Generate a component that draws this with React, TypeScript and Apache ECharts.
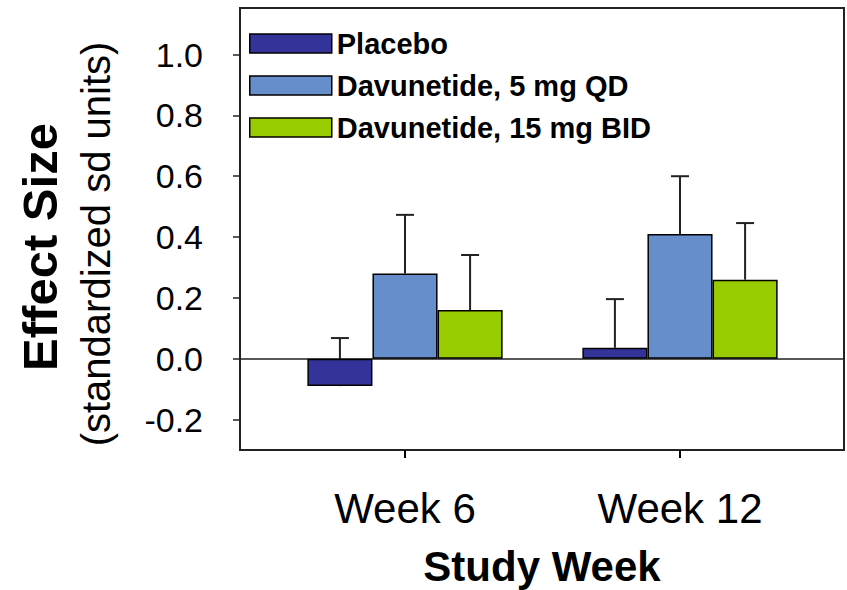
import React, { useEffect, useRef } from "react";
import * as echarts from "echarts";

const weeks = ["Week 6", "Week 12"];
const seriesNames = ["Placebo", "Davunetide, 5 mg QD", "Davunetide, 15 mg BID"];
const placebo = [-0.09, 0.036];
const dose5 = [0.28, 0.41];
const dose15 = [0.16, 0.26];
const placeboErr = [0.158, 0.16];
const dose5Err = [0.193, 0.19];
const dose15Err = [0.181, 0.186];
const yTicks = [-0.2, 0, 0.2, 0.4, 0.6, 0.8, 1.0];
const colors = ["#333399", "#658ECB", "#99CC00"];

const FONT = "'Liberation Sans', Arial, sans-serif";
const GAP = 0.29;

export default function App() {
  const ref = useRef<HTMLDivElement>(null);
  useEffect(() => {
    if (!ref.current) return;
    const chart = echarts.init(ref.current, null, { renderer: "svg" });
    const values = [placebo, dose5, dose15];
    const errs = [placeboErr, dose5Err, dose15Err];

    const barSeries = values.map((vals, si) => ({
      name: seriesNames[si],
      type: "bar",
      xAxisIndex: 1,
      yAxisIndex: 1,
      data: vals,
      barGap: "0%",
      barCategoryGap: GAP * 100 + "%",
      z: 3,
      itemStyle: { color: colors[si], borderColor: "#000", borderWidth: 1.5 },
    }));

    const errSeries = values.map((vals, si) => ({
      name: seriesNames[si] + " err",
      type: "custom",
      xAxisIndex: 1,
      yAxisIndex: 1,
      z: 1,
      silent: true,
      encode: { x: 0, y: 1 },
      data: vals.map((v, i) => [i, v, errs[si][i]]),
      renderItem: (params: any, api: any) => {
        const ci = api.value(0);
        const v = api.value(1);
        const e = api.value(2);
        const base = api.coord([ci, v]);
        const top = api.coord([ci, v + e]);
        const band = api.size([1, 0])[0];
        const bw = (band * (1 - GAP)) / 3;
        const x = base[0] + (si - 1) * bw;
        const st = { stroke: "#222", lineWidth: 2 };
        return {
          type: "group",
          children: [
            { type: "line", shape: { x1: x, y1: base[1], x2: x, y2: top[1] }, style: st },
            { type: "line", shape: { x1: x - 9, y1: top[1], x2: x + 9, y2: top[1] }, style: st },
          ],
        };
      },
    }));

    chart.setOption({
      animation: false,
      backgroundColor: "#fff",
      grid: [
        { left: 240, right: 3, top: 8, bottom: 140, show: true, borderColor: "#222", borderWidth: 2, backgroundColor: "transparent" },
        { left: 267.5, width: 550, top: 8, bottom: 140 },
      ],
      legend: {
        data: seriesNames,
        orient: "vertical",
        left: 244,
        top: 24,
        itemWidth: 82,
        itemHeight: 19,
        itemGap: 13,
        icon: "rect",
        itemStyle: { borderColor: "#000", borderWidth: 1.5 },
        textStyle: { fontFamily: FONT, fontWeight: "bold", fontSize: 29, color: "#000" },
      },
      xAxis: [
        {
          gridIndex: 0,
          type: "value",
          min: 0,
          max: 1,
          axisLine: { show: true, onZero: true, lineStyle: { color: "#222", width: 1.5 } },
          axisTick: { show: false },
          axisLabel: { show: false },
          splitLine: { show: false },
        },
        {
          gridIndex: 1,
          type: "category",
          data: weeks,
          position: "bottom",
          axisLine: { show: false, onZero: false },
          axisTick: { show: true, alignWithLabel: true, length: 8, lineStyle: { color: "#000", width: 2 } },
          axisLabel: { fontFamily: FONT, fontSize: 42, color: "#000", margin: 37 },
          splitLine: { show: false },
        },
      ],
      yAxis: [
        {
          gridIndex: 0,
          type: "value",
          min: -0.3,
          max: 1.153,
          axisLine: { show: true, lineStyle: { color: "#222", width: 2 } },
          axisTick: { show: true, length: 7, customValues: yTicks, lineStyle: { color: "#222", width: 1.5 } },
          axisLabel: {
            customValues: yTicks,
            formatter: (v: number) => v.toFixed(1),
            fontFamily: FONT,
            fontSize: 34,
            color: "#000",
            margin: 37,
          },
          splitLine: { show: false },
        },
        { gridIndex: 1, type: "value", min: -0.3, max: 1.153, show: false },
      ],
      graphic: [
        {
          type: "text",
          x: 40,
          y: 247,
          rotation: Math.PI / 2,
          style: {
            text: "Effect Size",
            font: `bold 49px ${FONT}`,
            fill: "#000",
            align: "center",
            verticalAlign: "middle",
            textAlign: "center",
            textVerticalAlign: "middle",
          },
        },
        {
          type: "text",
          x: 96,
          y: 244,
          rotation: Math.PI / 2,
          style: {
            text: "(standardized sd units)",
            font: `40px ${FONT}`,
            fill: "#000",
            align: "center",
            verticalAlign: "middle",
            textAlign: "center",
            textVerticalAlign: "middle",
          },
        },
        {
          type: "text",
          x: 542,
          y: 566,
          style: {
            text: "Study Week",
            font: `bold 42px ${FONT}`,
            fill: "#000",
            align: "center",
            verticalAlign: "middle",
            textAlign: "center",
            textVerticalAlign: "middle",
          },
        },
      ],
      series: [...errSeries, ...barSeries],
    });
    return () => chart.dispose();
  }, []);
  return <div ref={ref} style={{ position: "absolute", left: 0, top: 0, width: 847, height: 590 }} />;
}
